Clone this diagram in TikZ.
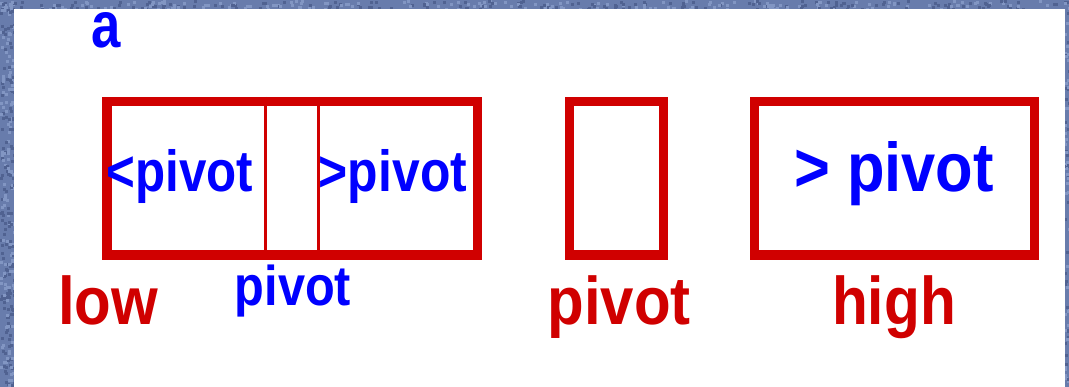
\documentclass[tikz,border=0pt]{standalone}
\usepackage{fontspec}
\usepackage{graphicx}
\setmainfont{Liberation Sans}
\definecolor{boxred}{RGB}{208,0,0}
\definecolor{txtblue}{RGB}{0,0,255}
\definecolor{granite}{RGB}{104,124,172}
\definecolor{graniteD}{RGB}{80,98,145}
\definecolor{graniteL}{RGB}{130,150,195}
\newcommand{\fsz}[1]{\fontsize{#1}{#1}\selectfont\bfseries}
\tikzset{
  box/.style={draw=boxred, line width=9.5pt, minimum width=#1, minimum height=153.5pt, inner sep=0pt},
  divider/.style={draw=boxred, line width=2.7pt},
  lbl/.style={anchor=base, inner sep=0pt, text=boxred},
  intext/.style={anchor=base, inner sep=0pt, text=txtblue},
}
\begin{document}
\begin{tikzpicture}[x=1pt,y=-1pt]
\useasboundingbox (0,0) rectangle (1069,387);
\fill[granite] (0,0) rectangle (1069,387);
% granite speckle
\pgfmathsetseed{7}
\foreach \i in {1,...,500}{
  \pgfmathsetmacro{\px}{rnd*1069}
  \pgfmathsetmacro{\py}{rnd*12}
  \pgfmathsetmacro{\sh}{rnd}
  \ifdim\sh pt<0.5pt
    \fill[graniteD] (\px,\py) rectangle ++(3,3);
  \else
    \fill[graniteL] (\px,\py) rectangle ++(3,3);
  \fi
}
\foreach \i in {1,...,300}{
  \pgfmathsetmacro{\px}{rnd*15}
  \pgfmathsetmacro{\py}{rnd*387}
  \pgfmathsetmacro{\sh}{rnd}
  \ifdim\sh pt<0.5pt
    \fill[graniteD] (\px,\py) rectangle ++(3,3);
  \else
    \fill[graniteL] (\px,\py) rectangle ++(3,3);
  \fi
}
\foreach \i in {1,...,80}{
  \pgfmathsetmacro{\px}{1063+rnd*6}
  \pgfmathsetmacro{\py}{rnd*387}
  \pgfmathsetmacro{\sh}{rnd}
  \ifdim\sh pt<0.5pt
    \fill[graniteD] (\px,\py) rectangle ++(3,3);
  \else
    \fill[graniteL] (\px,\py) rectangle ++(3,3);
  \fi
}
\fill[white] (14,9) rectangle (1065,387);
% title
\node[intext] (ta) at (106.5,47.5) {\fsz{62}\scalebox{0.85}[1.05]{a}};
% boxes
\node[box=370.5pt] (b1) at (292,178.5) {};
\node[box=94pt] (b2) at (616.5,178.5) {};
\node[box=280pt] (b3) at (894.5,178.5) {};
% dividers in box 1
\coordinate (d1) at (265.7,0);
\coordinate (d2) at (318.7,0);
\draw[divider] (d1 |- b1.north) -- (d1 |- b1.south);
\draw[divider] (d2 |- b1.north) -- (d2 |- b1.south);
% texts inside boxes
\node[intext] (lt) at (180,192) {\fsz{58}\scalebox{0.85}[1]{<pivot}};
\node[intext] (gt) at (393,192) {\fsz{58}\scalebox{0.86}[1]{>pivot}};
\node[intext] (hp) at (894,192) {\fsz{69}\scalebox{0.89}[1]{> pivot}};
% labels below
\node[lbl] (low) at (108,325) {\fsz{67.4}\scalebox{0.89}[1]{low}};
\node[intext] (pv) at (293,306) {\fsz{56}\scalebox{0.87}[1]{pivot}};
\node[lbl] (piv) at (619,325) {\fsz{67.4}\scalebox{0.89}[1]{pivot}};
\node[lbl] (high) at (894,325) {\fsz{67.4}\scalebox{0.87}[1]{high}};
\end{tikzpicture}
\end{document}
